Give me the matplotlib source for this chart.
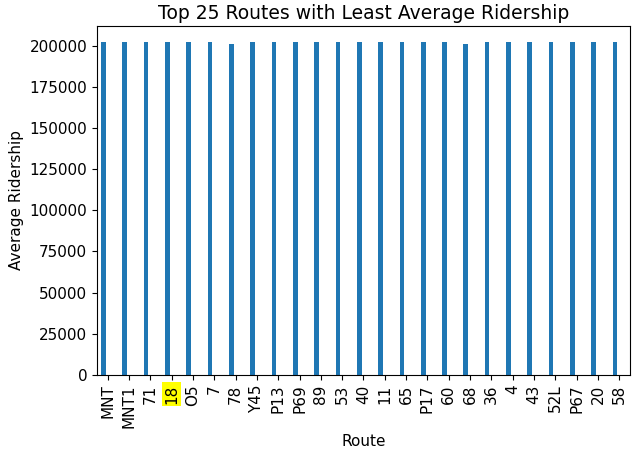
import numpy as np
import matplotlib
matplotlib.use("Agg")
import matplotlib.pyplot as plt

# routes and their average ridership
routes = ['MNT', 'MNT1', '71', '18', 'O5', '7', '78', 'Y45', 'P13', 'P69',
          '89', '53', '40', '11', '65', 'P17', '60', '68', '36', '4',
          '43', '52L', 'P67', '20', '58']
ridership = [202200, 202200, 202200, 202200, 202200, 202200, 201300, 202200, 202200, 202200,
             202200, 202200, 202200, 202200, 202200, 202200, 202200, 201300, 202200, 202200,
             202200, 202200, 202200, 202200, 202200]
highlight = '18'

fig = plt.figure(figsize=(6.36, 4.5), dpi=100)
ax = fig.add_axes([0.1525, 0.167, 0.838, 0.776])

x = np.arange(len(routes))
ax.bar(x - 0.2, ridership, width=0.22, color='#1f77b4')

ax.set_xticks(x)
ax.set_xticklabels(routes, rotation=90, fontsize=11)
ax.set_xlim(-0.5, len(routes) - 0.5)
ax.set_ylim(0, max(ridership) * 1.05)
ax.set_yticks(np.arange(0, 200001, 25000))
ax.tick_params(axis='y', labelsize=11)

for lbl in ax.get_xticklabels():
    if lbl.get_text() == highlight:
        lbl.set_bbox(dict(facecolor='yellow', edgecolor='none', pad=1.5))

ax.set_xlabel('Route', fontsize=11)
ax.set_ylabel('Average Ridership', fontsize=11)
ax.set_title('Top 25 Routes with Least Average Ridership', fontsize=13.5, pad=5)

fig.savefig('out.png', dpi=100)
